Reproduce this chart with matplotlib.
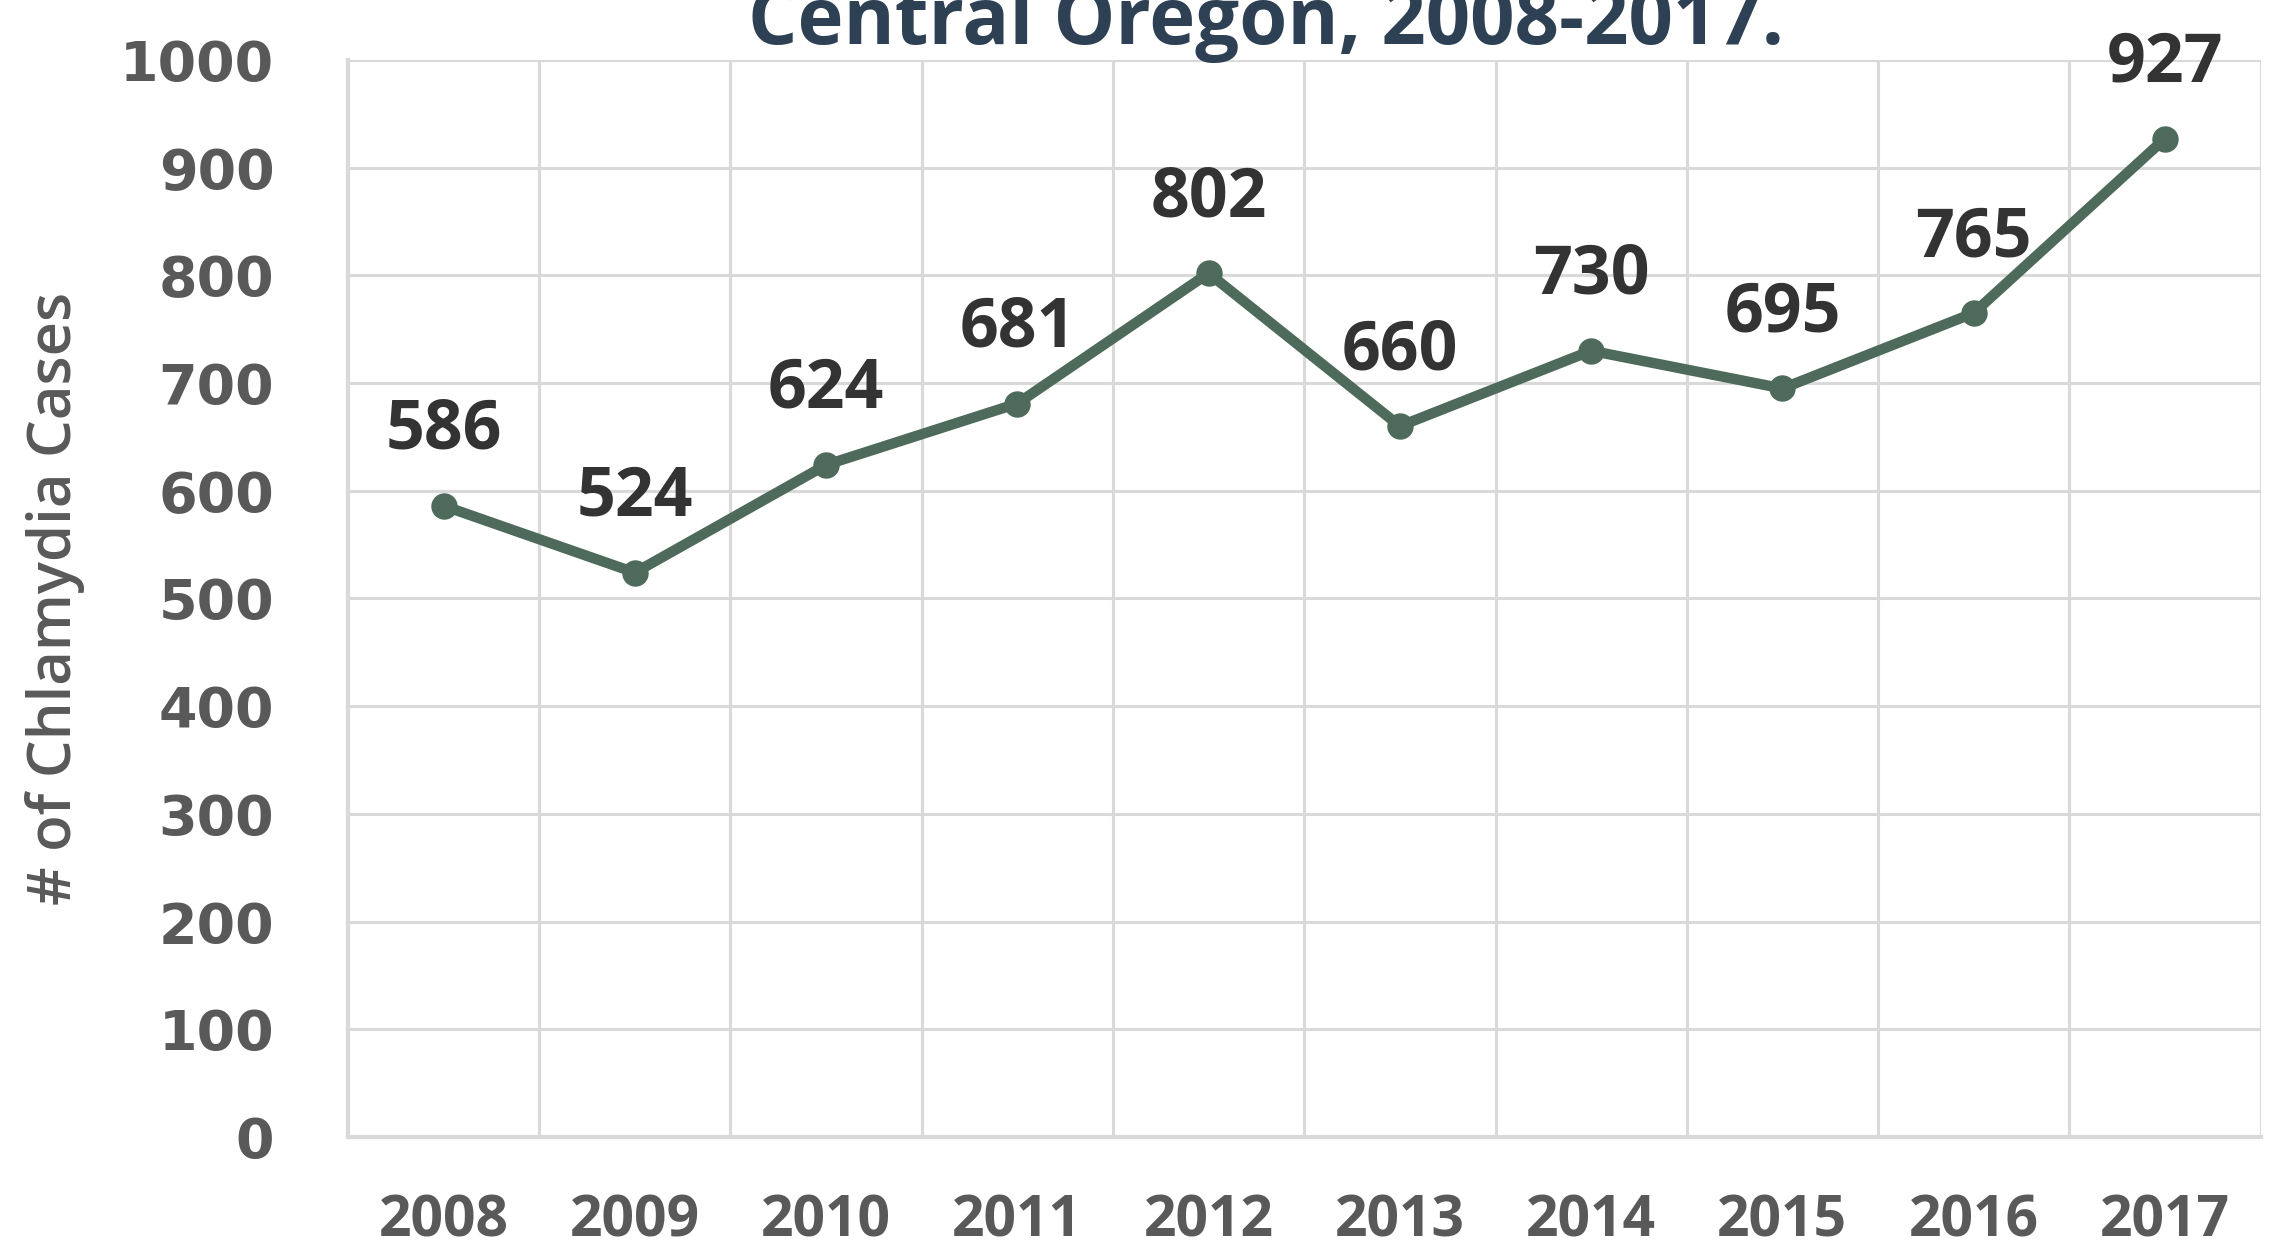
import matplotlib
matplotlib.use("Agg")
import matplotlib.pyplot as plt
import numpy as np

years = ["2008", "2009", "2010", "2011", "2012", "2013", "2014", "2015", "2016", "2017"]
cases = [586, 524, 624, 681, 802, 660, 730, 695, 765, 927]
y_ticks = [0, 100, 200, 300, 400, 500, 600, 700, 800, 900, 1000]

line_color = "#4d6a5a"
grid_color = "#d9d9d9"
tick_color = "#595959"

fig = plt.figure(figsize=(22.95, 12.49), dpi=100)
ax = fig.add_axes([0.1516, 0.0897, 0.8334, 0.8623])

x = np.arange(len(years))
ax.plot(x, cases, color=line_color, linewidth=7.5, marker="o", markersize=18,
        solid_joinstyle="round", zorder=3)

for xi, v in zip(x, cases):
    ax.annotate(str(v), (xi, v), xytext=(0, 54), textcoords="offset points",
                ha="center", va="center", fontsize=49, fontweight="bold",
                family="Open Sans", color="#333333", zorder=4)

ax.set_xlim(-0.5, len(years) - 0.5)
ax.set_ylim(0, 1000)
ax.set_yticks(y_ticks)
ax.set_yticklabels([str(t) for t in y_ticks], fontsize=40, fontweight="bold",
                   family="DejaVu Sans", color=tick_color)
ax.set_xticks(x)
ax.set_xticklabels(years, fontsize=41, fontweight="bold", family="Open Sans",
                   color=tick_color)
ax.set_xticks(np.arange(-0.5, len(years), 1), minor=True)
ax.tick_params(axis="y", length=0, pad=53)
ax.tick_params(axis="x", which="both", length=0, pad=40)
ax.grid(True, axis="y", color=grid_color, linewidth=2.2)
ax.grid(True, axis="x", which="minor", color=grid_color, linewidth=2.2)
ax.set_axisbelow(True)
for side in ["top", "right"]:
    ax.spines[side].set_visible(False)
for side in ["left", "bottom"]:
    ax.spines[side].set_color(grid_color)
    ax.spines[side].set_linewidth(3)

ax.set_ylabel("# of Chlamydia Cases", fontsize=43, fontweight="semibold",
              family="Open Sans", color=tick_color)
ax.yaxis.set_label_coords(-0.1375, 0.5)

# title sits partly above the canvas, as in the source image
fig.text(0.5516, 1 - 44 / 1249, "Central Oregon, 2008-2017.", ha="center",
         va="baseline", fontsize=56, fontweight="bold", family="Open Sans",
         color="#2e4053")

fig.savefig("out.png", dpi=100)
